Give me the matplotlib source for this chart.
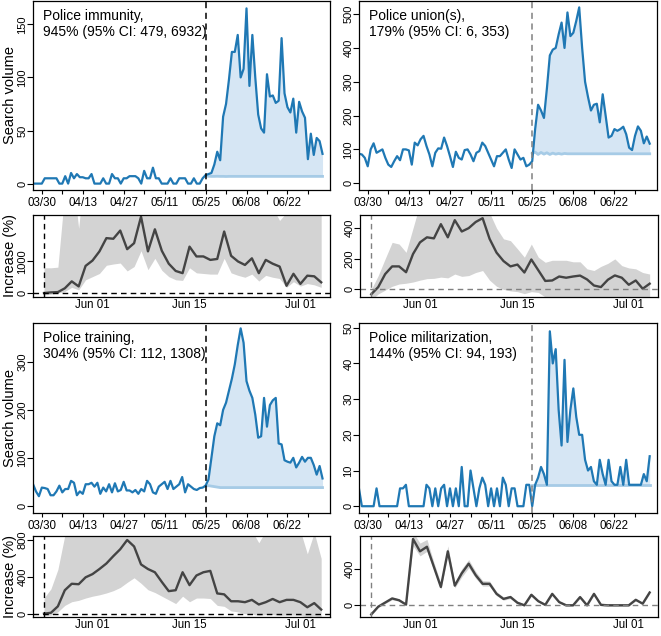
import numpy as np
import pandas as pd
import matplotlib
matplotlib.use('Agg')
import matplotlib.pyplot as plt

plt.rcParams['font.family'] = ['Liberation Sans', 'DejaVu Sans']

# daily search volume 03/27 - 07/04, event on 05/25
dates = pd.date_range('2020-03-27', '2020-07-04')
post_dates = pd.date_range('2020-05-25', '2020-07-04')
event = pd.Timestamp('2020-05-25')

terms = ['Police immunity', 'Police union(s)', 'Police training', 'Police militarization']
effects = ['945% (95% CI: 479, 6932)', '179% (95% CI: 6, 353)',
           '304% (95% CI: 112, 1308)', '144% (95% CI: 94, 193)']

# --- Police immunity
immunity_pre = [0, 0, 0, 0, 5, 5, 5, 5, 5, 0, 0, 7, 0, 10, 5, 9, 6, 6, 5, 5,
                9, 0, 0, 0, 5, 0, 0, 9, 5, 5, 0, 5, 5, 7, 7, 7, 5, 0, 12, 5,
                5, 15, 5, 5, 0, 0, 0, 5, 0, 0, 5, 5, 5, 0, 0, 5, 0, 0, 5]
immunity_post = [8, 9, 10, 18, 30, 22, 63, 75, 98, 124, 124, 140, 100, 108, 165, 92, 140, 100, 65, 52,
                 48, 103, 82, 83, 76, 78, 137, 85, 72, 67, 80, 48, 77, 68, 62, 23, 47, 27, 43, 40, 28]
immunity_pred = [7.0, 6.9, 6.8, 6.8, 6.9, 6.8, 6.8, 6.7, 6.8, 6.8, 6.8, 6.8, 6.8, 6.8, 6.8, 6.8, 6.8, 6.8, 6.8, 6.8,
                 6.8, 6.8, 6.8, 6.8, 6.8, 6.8, 6.8, 6.8, 6.8, 6.8, 6.8, 6.8, 6.8, 6.8, 6.8, 6.8, 6.8, 6.8, 6.8, 6.8, 6.8]
immunity_inc = [0, 20, 30, 150, 370, 210, 860, 1030, 1320, 1740, 1720, 1980, 1390, 1580, 2420, 1320, 2020, 1340, 930, 700,
                630, 1470, 1160, 1160, 1050, 1080, 1950, 1180, 1000, 890, 1100, 630, 1050, 930, 840, 230, 610, 290, 550, 530, 340]
immunity_lo = [-60, -40, 0, 50, 180, 100, 420, 520, 620, 880, 920, 950, 700, 840, 1340, 740, 1100, 720, 520, 420,
               400, 800, 640, 620, 600, 600, 1100, 640, 560, 500, 600, 380, 560, 500, 460, 180, 360, 220, 300, 260, 180]
immunity_hi = [800, 800, 820, 3200, 4000, 2050, 4200, 4000, 4000, 4500, 4500, 5000, 4000, 4200, 6000, 4000, 5000, 4000, 3500, 3000,
               3000, 4000, 3500, 3500, 3500, 3500, 4500, 3500, 3200, 3000, 3200, 2600, 3000, 2700, 2300, 2550, 2700, 2600, 2800, 2700, 2600]

# --- Police union(s)
union_pre = [87, 85, 75, 50, 100, 118, 90, 95, 100, 75, 55, 48, 65, 80, 68, 100, 100, 97, 55, 120,
             112, 130, 140, 110, 85, 50, 90, 103, 102, 135, 110, 80, 48, 93, 75, 70, 98, 100, 85, 65,
             90, 95, 120, 110, 90, 70, 50, 80, 80, 90, 100, 70, 45, 100, 85, 70, 75, 50, 55]
union_post = [65, 160, 232, 215, 193, 280, 378, 395, 400, 440, 475, 400, 505, 435, 445, 480, 520, 400, 300, 255,
              215, 232, 235, 180, 263, 200, 135, 140, 160, 155, 160, 167, 145, 105, 98, 140, 168, 155, 118, 138, 117]
union_pred = [88, 92, 85, 91, 86, 90, 85, 89, 86, 88, 86, 88, 87, 87, 87, 87, 87, 87, 87, 87,
              87, 87, 87, 87, 87, 87, 87, 87, 87, 87, 87, 87, 87, 87, 87, 87, 87, 87, 87, 87, 87]
union_inc = [-32, 15, 100, 150, 150, 112, 231, 307, 340, 333, 426, 340, 452, 378, 400, 440, 465, 330, 240, 185,
             150, 162, 110, 195, 125, 55, 58, 84, 76, 84, 90, 65, 25, 15, 63, 91, 76, 30, 58, 4, 37]
union_lo = [-70, -30, -5, 20, 35, 40, 48, 60, 70, 72, 80, 75, 100, 85, 90, 110, 123, 60, 20, 0,
            -10, -15, -28, -15, -20, -50, -70, -70, -70, -70, -70, -70, -70, -70, -70, -70, -70, -70, -70, -70, -70]
union_hi = [0, 90, 200, 307, 296, 242, 400, 560, 600, 620, 700, 640, 720, 660, 680, 700, 720, 500, 400, 330,
            318, 265, 210, 296, 210, 177, 190, 190, 190, 180, 180, 134, 123, 150, 170, 199, 155, 140, 134, 110, 100]

# --- Police training
training_pre = [45, 30, 20, 38, 37, 35, 22, 22, 30, 42, 28, 35, 35, 52, 48, 22, 30, 25, 45, 45,
                48, 40, 48, 25, 38, 30, 45, 28, 47, 30, 33, 50, 32, 32, 28, 33, 25, 35, 30, 52,
                45, 28, 25, 40, 45, 50, 35, 52, 35, 40, 45, 60, 28, 45, 40, 35, 33, 37, 38]
training_post = [42, 55, 100, 145, 172, 168, 200, 215, 240, 265, 295, 335, 370, 340, 260, 240, 225, 190, 142, 145,
                 225, 165, 210, 220, 225, 130, 128, 95, 92, 90, 100, 80, 90, 102, 92, 100, 100, 85, 65, 83, 57]
training_pred = [41, 42, 41, 40, 39, 38, 38, 38, 38, 38, 38, 38, 38, 38, 38, 38, 38, 38, 38, 38,
                 38, 38, 38, 38, 38, 38, 38, 38, 38, 38, 38, 38, 38, 38, 38, 38, 38, 38, 38, 38, 38]
training_inc = [0, 10, 80, 255, 325, 320, 395, 430, 485, 545, 625, 700, 800, 730, 535, 485, 450, 345, 245, 255,
                450, 310, 415, 450, 465, 220, 210, 135, 135, 125, 150, 100, 125, 160, 125, 150, 150, 125, 70, 115, 45]
training_lo = [-20, -15, 20, 90, 130, 145, 170, 190, 205, 225, 250, 285, 340, 390, 330, 260, 230, 190, 150, 110,
               190, 130, 170, 170, 165, 90, 80, 30, 20, 0, -5, -20, -10, -10, -20, -15, -15, -20, -35, -25, -40]
training_hi = [170, 270, 480, 850, 1100, 1100, 1200, 1200, 1300, 1400, 1500, 1600, 1800, 1700, 1400, 1300, 1300, 1100, 1000, 1000,
               1300, 1000, 1200, 1200, 1200, 950, 950, 900, 900, 880, 900, 770, 900, 950, 900, 920, 920, 900, 650, 880, 600]

# --- Police militarization
milit_pre = [5, 0, 0, 0, 0, 0, 5, 0, 0, 0, 0, 0, 0, 0, 5, 5, 6, 0, 0, 0,
             0, 0, 0, 6, 5, 0, 5, 0, 5, 6, 0, 5, 0, 5, 0, 11, 0, 0, 10, 5,
             0, 5, 8, 6, 0, 5, 0, 5, 0, 8, 6, 0, 5, 5, 0, 0, 0, 6, 6]
milit_post = [0, 6, 8, 11, 9, 6, 49, 40, 44, 27, 17, 41, 18, 27, 33, 25, 20, 20, 13, 10,
              11, 7, 6, 13, 9, 6, 13, 7, 6, 6, 11, 6, 13, 6, 6, 6, 6, 6, 9, 7, 14]
milit_pred = [6, 6, 6, 6, 6, 6, 6, 6, 6, 6, 6, 6, 6, 6, 6, 6, 6, 6, 6, 6,
              6, 6, 6, 6, 6, 6, 6, 6, 6, 6, 6, 6, 6, 6, 6, 6, 6, 6, 6, 6, 6]
milit_inc = [-100, -15, 30, 75, 55, 8, 725, 590, 640, 420, 200, 590, 215, 350, 455, 330, 235, 235, 125, 70,
             90, 28, 0, 115, 45, 5, 125, 35, 0, 0, 90, 0, 125, 5, 0, 0, 0, 0, 60, 18, 140]
milit_lo = [-110, -25, 20, 60, 45, 0, 650, 540, 590, 380, 175, 540, 190, 310, 410, 295, 210, 210, 105, 55,
            75, 15, -10, 100, 35, -5, 110, 25, -10, -10, 75, -10, 110, -5, -10, -10, -10, -10, 50, 8, 125]
milit_hi = [-90, -5, 40, 90, 70, 20, 800, 680, 720, 470, 240, 650, 250, 400, 500, 370, 270, 265, 150, 90,
            110, 45, 15, 135, 60, 20, 140, 50, 15, 15, 105, 15, 140, 20, 15, 15, 15, 15, 75, 30, 155]

BLUE = '#1f78b4'
LIGHT = '#d6e6f4'
PRED = '#a6cbe6'

top_ticks = pd.date_range('2020-03-30', '2020-06-29', freq='7D')
top_labels = [d.strftime('%m/%d') if i % 2 == 0 else '' for i, d in enumerate(top_ticks)]
bot_ticks = [pd.Timestamp('2020-06-01'), pd.Timestamp('2020-06-15'), pd.Timestamp('2020-07-01')]
bot_labels = ['Jun 01', 'Jun 15', 'Jul 01']


def style(ax, xlen, xpad):
    ax.tick_params(direction='out', width=0.8)
    ax.tick_params(axis='x', length=xlen, pad=xpad, labelsize=8.3)
    ax.tick_params(axis='y', length=4, pad=0, labelsize=8, labelrotation=90)
    for lab in ax.get_yticklabels():
        lab.set_va('center')
    for s in ax.spines.values():
        s.set_linewidth(0.9)


def top_panel(ax, pre, post, pred, ylim, yticks, dcol, term, effect):
    vol = pre + post
    ax.fill_between(post_dates, pred, post, color=LIGHT, lw=0)
    ax.plot(post_dates, pred, color=PRED, lw=2)
    ax.plot(dates, vol, color=BLUE, lw=1.6)
    ax.axvline(event, color=dcol, ls=(0, (4, 3)), lw=1.1)
    ax.set_xlim(pd.Timestamp('2020-03-27'), pd.Timestamp('2020-07-06 12:00'))
    ax.set_ylim(*ylim)
    ax.set_yticks(yticks)
    ax.set_xticks(top_ticks)
    ax.set_xticklabels(top_labels)
    ax.text(0.034, 0.958, term + ',\n' + effect, transform=ax.transAxes,
            ha='left', va='top', fontsize=10, linespacing=1.15)
    style(ax, 3, 2)


def bottom_panel(ax, inc, lo, hi, ylim, yticks, dcol):
    ax.fill_between(post_dates, lo, hi, color='#d3d3d3', lw=0)
    ax.plot(post_dates, inc, color='#444444', lw=1.7)
    ax.axhline(0, color=dcol, ls=(0, (4, 3)), lw=1.0)
    ax.axvline(event, color=dcol, ls=(0, (4, 3)), lw=1.0)
    ax.set_xlim(pd.Timestamp('2020-05-23 10:00'), pd.Timestamp('2020-07-05 06:00'))
    ax.set_ylim(*ylim)
    ax.set_yticks(yticks)
    ax.set_xticks(bot_ticks)
    ax.set_xticklabels(bot_labels)
    style(ax, 0, 1.5)


fig = plt.figure(figsize=(6.61, 6.36), dpi=100)

ax1 = fig.add_axes([0.050, 0.7013, 0.449, 0.2972])
ax2 = fig.add_axes([0.543, 0.7013, 0.451, 0.2972])
ax3 = fig.add_axes([0.050, 0.533, 0.449, 0.129])
ax4 = fig.add_axes([0.545, 0.533, 0.451, 0.129])
ax5 = fig.add_axes([0.050, 0.1934, 0.449, 0.2986])
ax6 = fig.add_axes([0.543, 0.1934, 0.451, 0.2986])
ax7 = fig.add_axes([0.050, 0.0300, 0.449, 0.1270])
ax8 = fig.add_axes([0.545, 0.0300, 0.451, 0.1270])

top_panel(ax1, immunity_pre, immunity_post, immunity_pred, (-6, 172), [0, 50, 100, 150], 'black', terms[0], effects[0])
top_panel(ax2, union_pre, union_post, union_pred, (-20, 539), [0, 100, 200, 300, 400, 500], '#808080', terms[1], effects[1])
top_panel(ax5, training_pre, training_post, training_pred, (-15, 381), [0, 100, 200, 300], 'black', terms[2], effects[2])
top_panel(ax6, milit_pre, milit_post, milit_pred, (-1.9, 51.3), [0, 10, 20, 30, 40, 50], '#808080', terms[3], effects[3])

bottom_panel(ax3, immunity_inc, immunity_lo, immunity_hi, (-126, 2474), [0, 1000], 'black')
bottom_panel(ax4, union_inc, union_lo, union_hi, (-50, 486), [0, 200, 400], '#808080')
bottom_panel(ax7, training_inc, training_lo, training_hi, (-35, 842), [0, 400, 800], 'black')
bottom_panel(ax8, milit_inc, milit_lo, milit_hi, (-127, 756), [0, 400], '#808080')

for ax in [ax1, ax5]:
    ax.set_ylabel('Search volume', fontsize=10.5)
    ax.yaxis.set_label_coords(-0.055, 0.5)
for ax in [ax3, ax7]:
    ax.set_ylabel('Increase (%)', fontsize=10.5)
    ax.yaxis.set_label_coords(-0.055, 0.5)

fig.savefig('out.png', dpi=100)
